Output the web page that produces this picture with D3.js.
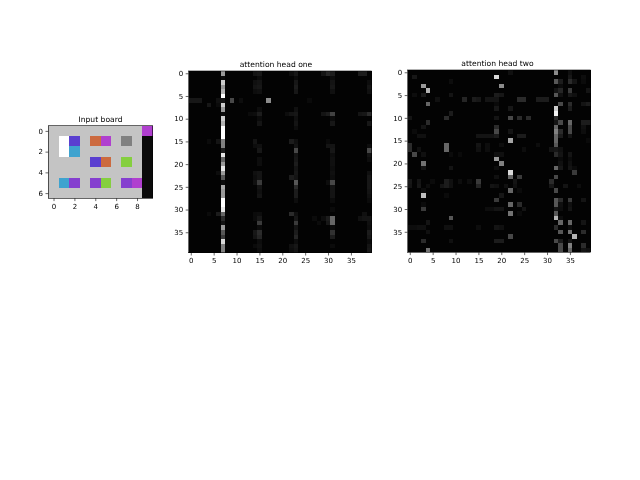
<!DOCTYPE html>
<html>
<head>
<meta charset="utf-8">
<script src="https://cdn.jsdelivr.net/npm/d3@7"></script>
<style>
  body { margin: 0; background: #fff; }
  svg { display: block; filter: blur(0.5px); }
  text { font-family: "DejaVu Sans", sans-serif; }
</style>
</head>
<body>
<div id="chart"></div>
<script>
// palette index used by the board rows
var boardPalette = ["#c4c4c4", "#ffffff", "#0a0a0a", "#5a3fd0", "#3fa3cf", "#cc6a3f", "#b03fcf", "#808080", "#85cf3f", "#853fcf"];
var boardRows = [
  [0, 0, 0, 0, 0, 0, 0, 0, 0, 6],
  [0, 1, 3, 0, 5, 6, 0, 7, 0, 2],
  [0, 1, 4, 0, 0, 0, 0, 0, 0, 2],
  [0, 0, 0, 0, 3, 5, 0, 8, 0, 2],
  [0, 0, 0, 0, 0, 0, 0, 0, 0, 2],
  [0, 4, 9, 0, 9, 8, 0, 9, 6, 2],
  [0, 0, 0, 0, 0, 0, 0, 0, 0, 2]
];
var boardXTicks = [0, 2, 4, 6, 8];
var boardYTicks = [0, 2, 4, 6];
var headXTicks = [0, 5, 10, 15, 20, 25, 30, 35];
var headYTicks = [0, 5, 10, 15, 20, 25, 30, 35];
var headSize = 40;

// attention, [row, column, level]; anything not listed is close to black
var headOneCol7 = [.6, .05, .8, .6, .7, 1, .1, .8, .6, .05, .8, .7, 1, 1, 1, .5, .5, .15, .9, .4,
  .6, .9, .6, .35, .05, .65, .6, .6, 1, 1, .9, .4, .2, .1, .6, .35, .25, .85, .5, .5];
var headOneCells = [
  [0, 14, .1], [0, 15, .12], [0, 22, .06], [0, 23, .12], [0, 29, .1], [0, 30, .18], [0, 31, .15], [0, 37, .15], [0, 38, .15],
  [1, 15, .05], [1, 23, .05], [1, 31, .05],
  [2, 14, .08], [2, 15, .1], [2, 23, .12], [2, 31, .1], [2, 39, .06],
  [3, 14, .1], [3, 15, .12], [3, 23, .15], [3, 31, .12], [3, 39, .1],
  [4, 14, .06], [4, 15, .08], [4, 23, .12], [4, 31, .08], [4, 39, .08],
  [6, 0, .12], [6, 1, .12], [6, 2, .12], [6, 6, .08], [6, 9, .3], [6, 11, .06], [6, 17, .55], [6, 26, .04],
  [7, 4, .12], [7, 6, .05],
  [8, 15, .06], [8, 23, .08],
  [9, 13, .05], [9, 14, .06], [9, 15, .15], [9, 21, .06], [9, 22, .1], [9, 23, .12], [9, 29, .1], [9, 30, .15], [9, 31, .28], [9, 37, .1], [9, 38, .12], [9, 39, .2],
  [10, 15, .05], [10, 23, .08], [10, 31, .05],
  [11, 15, .1], [11, 23, .1], [11, 31, .12], [11, 39, .12],
  [12, 23, .06],
  [15, 4, .05], [15, 6, .1], [15, 14, .1], [15, 22, .15], [15, 23, .08], [15, 30, .04],
  [16, 14, .06], [16, 15, .08], [16, 23, .1], [16, 30, .1], [16, 31, .1], [16, 39, .06],
  [17, 15, .12], [17, 23, .3], [17, 31, .12], [17, 39, .3],
  [18, 23, .1], [18, 31, .06], [18, 39, .1],
  [19, 15, .06], [19, 23, .12], [19, 31, .08], [19, 39, .06],
  [20, 15, .06], [20, 23, .15], [20, 31, .08],
  [21, 23, .1], [21, 31, .06],
  [22, 6, .06], [22, 14, .08], [22, 15, .1], [22, 23, .12], [22, 31, .08], [22, 39, .08],
  [23, 14, .06], [23, 15, .1], [23, 22, .15], [23, 23, .1], [23, 31, .06], [23, 39, .12],
  [24, 14, .08], [24, 15, .25], [24, 23, .35], [24, 30, .06], [24, 31, .3], [24, 39, .12],
  [25, 15, .1], [25, 23, .2], [25, 31, .1], [25, 39, .12],
  [26, 15, .08], [26, 23, .15], [26, 31, .1], [26, 39, .1],
  [27, 15, .1], [27, 23, .15], [27, 31, .1], [27, 39, .08],
  [28, 23, .06], [28, 31, .05], [28, 39, .05],
  [30, 31, .04],
  [31, 4, .05], [31, 6, .15], [31, 14, .05], [31, 15, .06], [31, 22, .2], [31, 23, .08], [31, 38, .08],
  [32, 14, .05], [32, 15, .12], [32, 23, .12], [32, 27, .05], [32, 29, .06], [32, 30, .15], [32, 31, .4], [32, 37, .08], [32, 38, .1], [32, 39, .1],
  [33, 15, .25], [33, 23, .25], [33, 28, .05], [33, 30, .12], [33, 31, .4], [33, 39, .08],
  [34, 15, .05], [34, 23, .1], [34, 31, .05], [34, 39, .06],
  [35, 14, .12], [35, 15, .2], [35, 23, .15], [35, 31, .22], [35, 39, .15],
  [36, 14, .1], [36, 15, .18], [36, 23, .18], [36, 31, .15], [36, 39, .12],
  [37, 15, .06], [37, 23, .06], [37, 39, .05],
  [38, 14, .05], [38, 15, .08], [38, 22, .08], [38, 23, .12], [38, 31, .05], [38, 39, .1],
  [39, 15, .06], [39, 22, .06], [39, 23, .1], [39, 39, .12]
];
var headTwoCells = [
  [0, 22, .08], [0, 32, .55], [0, 35, .08],
  [1, 1, .12], [1, 19, .85], [1, 35, .12], [1, 38, .06],
  [2, 9, .06], [2, 32, .35], [2, 33, .15], [2, 35, .2], [2, 36, .1], [2, 38, .05],
  [3, 3, .6], [3, 20, .55], [3, 33, .05],
  [4, 4, .7], [4, 32, .1], [4, 33, .18], [4, 35, .25], [4, 39, .1],
  [5, 1, .06], [5, 3, .14], [5, 9, .1], [5, 19, .15], [5, 20, .12], [5, 32, .35], [5, 33, .08], [5, 35, .12], [5, 36, .08],
  [6, 6, .08], [6, 12, .18], [6, 14, .15], [6, 15, .12], [6, 17, .1], [6, 18, .1], [6, 19, .1], [6, 24, .2], [6, 25, .2], [6, 28, .15], [6, 29, .15], [6, 30, .15],
  [7, 4, .4], [7, 19, .04], [7, 33, .3], [7, 35, .2], [7, 38, .1], [7, 39, .15],
  [8, 19, .12], [8, 22, .12], [8, 32, .8], [8, 35, .15],
  [9, 9, .15], [9, 32, .95],
  [10, 0, .1], [10, 8, .2], [10, 19, .1], [10, 22, .3], [10, 24, .2], [10, 26, .2], [10, 32, .2],
  [11, 4, .2], [11, 32, .1], [11, 33, .3], [11, 35, .4], [11, 38, .15], [11, 39, .15],
  [12, 3, .1], [12, 19, .2], [12, 32, .4], [12, 35, .3], [12, 38, .08],
  [13, 1, .05], [13, 19, .3], [13, 22, .1], [13, 32, .5], [13, 33, .2], [13, 35, .3], [13, 38, .06],
  [14, 2, .08], [14, 3, .08], [14, 15, .1], [14, 16, .1], [14, 17, .1], [14, 18, .1], [14, 19, .15], [14, 24, .15], [14, 25, .15], [14, 32, .4], [14, 33, .15], [14, 35, .1],
  [15, 22, .65], [15, 32, .4], [15, 39, .04],
  [16, 0, .2], [16, 8, .4], [16, 15, .1], [16, 17, .06], [16, 20, .06], [16, 28, .06], [16, 32, .35],
  [17, 0, .2], [17, 2, .08], [17, 8, .4], [17, 15, .08], [17, 17, .06], [17, 25, .06], [17, 31, .1], [17, 32, .12], [17, 33, .08],
  [18, 1, .3], [18, 3, .08], [18, 9, .05], [18, 11, .04], [18, 19, .08], [18, 20, .08], [18, 32, .2], [18, 33, .1], [18, 35, .1],
  [19, 19, .6], [19, 33, .04], [19, 35, .05],
  [20, 3, .45], [20, 20, .5], [20, 33, .08], [20, 35, .08],
  [21, 3, .1], [21, 9, .1], [21, 19, .06], [21, 32, .4], [21, 33, .12], [21, 35, .1], [21, 36, .05],
  [22, 22, .85], [22, 36, .25],
  [23, 19, .08], [23, 22, .4], [23, 24, .25], [23, 32, .3],
  [24, 0, .12], [24, 2, .1], [24, 5, .05], [24, 8, .15], [24, 9, .08], [24, 11, .06], [24, 13, .06], [24, 15, .25], [24, 23, .1], [24, 31, .2],
  [25, 0, .1], [25, 2, .12], [25, 4, .06], [25, 7, .1], [25, 8, .15], [25, 9, .08], [25, 15, .18], [25, 18, .1], [25, 19, .08], [25, 21, .08], [25, 23, .08], [25, 31, .12], [25, 34, .1], [25, 37, .06],
  [26, 3, .06], [26, 22, .4], [26, 24, .05], [26, 32, .3],
  [27, 3, .75], [27, 8, .05], [27, 20, .12],
  [28, 19, .25], [28, 32, .35], [28, 33, .2], [28, 35, .25], [28, 38, .1],
  [29, 3, .05], [29, 22, .4], [29, 24, .2], [29, 32, .35], [29, 33, .08], [29, 35, .08],
  [30, 3, .25], [30, 17, .06], [30, 18, .06], [30, 19, .1], [30, 20, .1], [30, 25, .1], [30, 32, .1], [30, 33, .06], [30, 35, .1],
  [31, 22, .45], [31, 32, .35], [31, 24, .05],
  [32, 9, .35], [32, 32, .7], [32, 33, .06],
  [33, 4, .1], [33, 33, .4], [33, 35, .4], [33, 38, .1],
  [34, 0, .06], [34, 1, .06], [34, 2, .08], [34, 3, .08], [34, 8, .08], [34, 9, .08], [34, 15, .06], [34, 19, .1], [34, 20, .08], [34, 32, .2], [34, 35, .06],
  [35, 4, .08], [35, 33, .35], [35, 35, .45], [35, 38, .2],
  [36, 22, .3], [36, 36, .7],
  [37, 3, .2], [37, 9, .08], [37, 19, .15], [37, 20, .15], [37, 32, .3], [37, 33, .15], [37, 35, .1],
  [38, 33, .3], [38, 35, .5], [38, 38, .2],
  [39, 4, .45], [39, 33, .3], [39, 35, .4], [39, 38, .1], [39, 39, .08]
];

var svg = d3.select("#chart")
  .append("svg")
  .attr("width", 640)
  .attr("height", 480);

// axes frame shared by the three panels
var panel = function(box, title, nCols, nRows, xTicks, yTicks) {
  var x = d3.scaleLinear().domain([-0.5, nCols - 0.5]).range([box.left, box.right]);
  var y = d3.scaleLinear().domain([-0.5, nRows - 0.5]).range([box.top, box.bottom]);
  var g = svg.append("g");
  var cells = g.append("g");

  g.append("rect")
  .attr("x", box.left)
  .attr("y", box.top)
  .attr("width", box.right - box.left)
  .attr("height", box.bottom - box.top)
  .style("fill", "none")
  .style("stroke", "#000")
  .style("stroke-width", 0.6);

  var xAxis = g.append("g")
  .attr("transform", "translate(0," + box.bottom + ")")
  .call(d3.axisBottom(x).tickValues(xTicks).tickFormat(d3.format("d")).tickSize(2.8).tickSizeOuter(0).tickPadding(2.5));
  var yAxis = g.append("g")
  .attr("transform", "translate(" + box.left + ",0)")
  .call(d3.axisLeft(y).tickValues(yTicks).tickFormat(d3.format("d")).tickSize(2.8).tickSizeOuter(0).tickPadding(2.5));

  [xAxis, yAxis].forEach(function(a) {
    a.select(".domain").remove();
    a.selectAll("line").style("stroke", "#000").style("stroke-width", 0.6);
    a.selectAll("text").style("font-family", "DejaVu Sans").style("font-size", "7px").style("fill", "#000");
  });

  g.append("text")
  .attr("x", box.titleX)
  .attr("y", box.top - 4)
  .style("text-anchor", "middle")
  .style("font-size", "7.6px")
  .style("fill", "#000")
  .text(title);

  return { x: x, y: y, cells: cells };
};

var drawCells = function(p, data, color) {
  p.cells.selectAll("rect")
  .data(data)
  .enter().append("rect")
  .attr("x", function(d) { return p.x(d[1] - 0.5); })
  .attr("y", function(d) { return p.y(d[0] - 0.5); })
  .attr("width", function(d) { return p.x(d[1] + 0.5) - p.x(d[1] - 0.5); })
  .attr("height", function(d) { return p.y(d[0] + 0.5) - p.y(d[0] - 0.5); })
  .attr("shape-rendering", "crispEdges")
  .style("fill", function(d) { return color(d[2]); });
};

var boardCells = [];
boardRows.forEach(function(row, r) {
  row.forEach(function(v, c) { boardCells.push([r, c, v]); });
});

var boardPanel = panel({ left: 48.3, right: 152.7, top: 125.7, bottom: 198.3, titleX: 100.5 }, "Input board", 10, 7, boardXTicks, boardYTicks);
drawCells(boardPanel, boardCells, function(v) { return boardPalette[v]; });

// low levels sit much closer to black in the reference
var gray = d3.scaleLinear().domain([0, .15, .4, 1]).range(["#030303", "#1c1c1c", "#666666", "#ffffff"]);
var fullGrid = function(sparse) {
  var grid = d3.range(headSize).map(function() { return d3.range(headSize).map(function() { return 0; }); });
  sparse.forEach(function(d) { grid[d[0]][d[1]] = d[2]; });
  var out = [];
  grid.forEach(function(row, r) {
    row.forEach(function(v, c) { out.push([r, c, v]); });
  });
  return out;
};

var headOnePanel = panel({ left: 188.5, right: 371.5, top: 71, bottom: 252.7, titleX: 276 }, "attention head one", headSize, headSize, headXTicks, headYTicks);
var headOneAll = headOneCells.concat(headOneCol7.map(function(v, r) { return [r, 7, v]; }));
drawCells(headOnePanel, fullGrid(headOneAll), gray);

var headTwoPanel = panel({ left: 407.5, right: 590.5, top: 70, bottom: 252.3, titleX: 497.5 }, "attention head two", headSize, headSize, headXTicks, headYTicks);
drawCells(headTwoPanel, fullGrid(headTwoCells), gray);
</script>
</body>
</html>
